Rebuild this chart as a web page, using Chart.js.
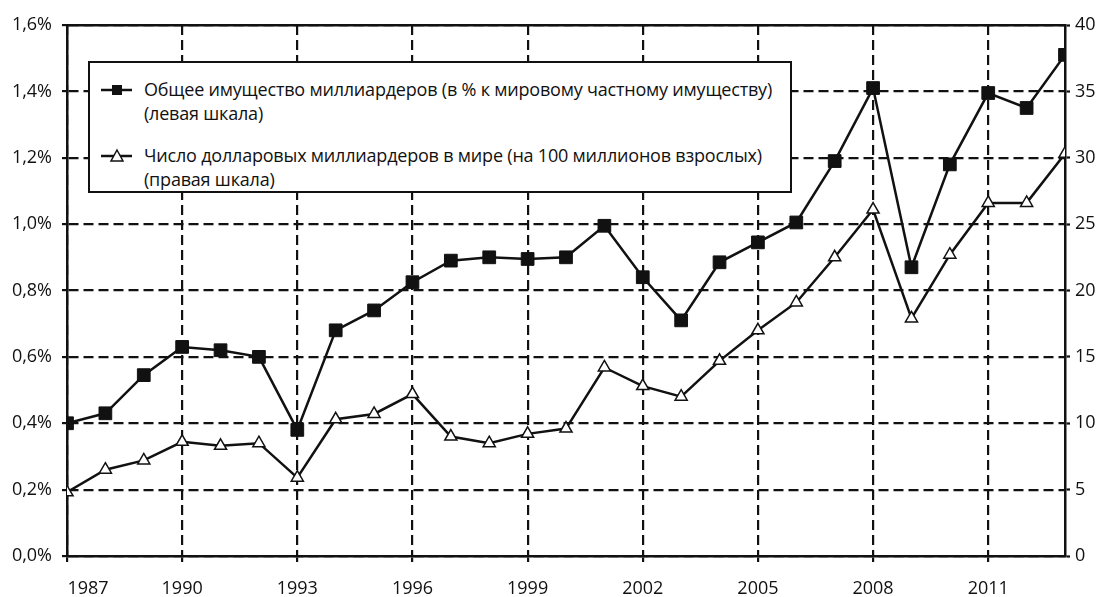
<!DOCTYPE html>
<html>
<head>
<meta charset="utf-8">
<script src="https://cdn.jsdelivr.net/npm/chart.js@4/dist/chart.umd.min.js"></script>
<style>
  html, body { margin: 0; padding: 0; background: #fff; }
  #wrap { position: relative; width: 1099px; height: 597px; }
  #legend {
    position: absolute; left: 88px; top: 61px; width: 700px; height: 128px;
    border: 2px solid #111; background: #fff;
    font-family: "Open Sans", sans-serif;
    font-size: 18px; color: #111; line-height: 24px; letter-spacing: -0.2px;
  }
  .item { position: absolute; left: 10px; }
  .item svg { position: absolute; left: 0; top: 4px; }
  .item .txt { position: absolute; left: 44px; top: -1px; white-space: nowrap; }
</style>
</head>
<body>
<div id="wrap">
  <canvas id="myChart" width="1099" height="597"></canvas>
  <div id="legend">
    <div class="item" style="top:15px">
      <svg width="34" height="16"><line x1="1" y1="8" x2="32" y2="8" stroke="#111" stroke-width="2.5"/><rect x="12" y="3" width="10" height="10" fill="#111"/></svg>
      <div class="txt">Общее имущество миллиардеров (в % к мировому частному имуществу)<br>(левая шкала)</div>
    </div>
    <div class="item" style="top:81px">
      <svg width="34" height="16"><line x1="1" y1="8" x2="32" y2="8" stroke="#111" stroke-width="2.5"/><polygon points="17,2 23,13 11,13" fill="#fff" stroke="#111" stroke-width="1.5"/></svg>
      <div class="txt">Число долларовых миллиардеров в мире (на 100 миллионов взрослых)<br>(правая шкала)</div>
    </div>
  </div>
</div>
<script>
// years on the x axis
const years = [1987, 1988, 1989, 1990, 1991, 1992, 1993, 1994, 1995, 1996, 1997, 1998, 1999,
    2000, 2001, 2002, 2003, 2004, 2005, 2006, 2007, 2008, 2009, 2010, 2011, 2012, 2013];

// left scale: billionaire wealth, % of world private wealth
const wealthShare = [0.40, 0.43, 0.545, 0.63, 0.62, 0.60, 0.38, 0.68, 0.74, 0.825, 0.89, 0.90, 0.895,
    0.90, 0.995, 0.84, 0.71, 0.885, 0.945, 1.005, 1.19, 1.41, 0.87, 1.18, 1.395, 1.35, 1.51];

// right scale: number of dollar billionaires per 100 million adults
const billionaires = [4.8, 6.5, 7.2, 8.6, 8.3, 8.5, 5.9, 10.3, 10.7, 12.2, 9.0, 8.5, 9.2,
    9.6, 14.2, 12.8, 12.0, 14.7, 17.0, 19.1, 22.5, 26.1, 17.9, 22.7, 26.6, 26.6, 30.3];

const xTicks = [1987, 1990, 1993, 1996, 1999, 2002, 2005, 2008, 2011];
const leftTicks = [0, 0.2, 0.4, 0.6, 0.8, 1.0, 1.2, 1.4, 1.6];
const rightTicks = [0, 5, 10, 15, 20, 25, 30, 35, 40];

const ink = '#111';
const tickFont = { family: '"Open Sans", sans-serif', size: 18 };

const ctx = document.getElementById('myChart').getContext('2d');
const myChart = new Chart(ctx, {
    type: 'line',
    data: {
        datasets: [{
            label: 'Общее имущество миллиардеров',
            data: years.map((y, i) => ({ x: y, y: wealthShare[i] })),
            yAxisID: 'y',
            borderColor: ink,
            borderWidth: 2.5,
            pointStyle: 'rect',
            pointRadius: 9,
            pointBackgroundColor: ink,
            pointBorderColor: ink,
            pointBorderWidth: 1,
            tension: 0
        }, {
            label: 'Число долларовых миллиардеров',
            data: years.map((y, i) => ({ x: y, y: billionaires[i] })),
            yAxisID: 'y2',
            borderColor: ink,
            borderWidth: 2.5,
            pointStyle: 'triangle',
            pointRadius: 7,
            pointBackgroundColor: '#fff',
            pointBorderColor: ink,
            pointBorderWidth: 1.5,
            tension: 0
        }]
    },
    options: {
        responsive: false,
        animation: false,
        layout: { padding: { top: 25, left: 0, right: 0, bottom: 0 } },
        plugins: {
            legend: { display: false },
            tooltip: { enabled: false }
        },
        scales: {
            x: {
                type: 'linear',
                position: 'bottom',
                min: 1987,
                max: 2013,
                afterBuildTicks: s => { s.ticks = xTicks.map(v => ({ value: v })); },
                afterFit: s => { s.height = 41; },
                ticks: {
                    color: ink, font: tickFont, padding: 16, maxRotation: 0,
                    // first label sits to the right of the axis corner, as in the original
                    callback: v => v === 1987 ? '         1987' : String(v)
                },
                grid: { color: ink, lineWidth: 2.2, tickLength: 6, tickColor: ink, tickWidth: 2.2 },
                border: { color: ink, width: 2.5, dash: [10, 5] }
            },
            xTop: {
                type: 'linear',
                position: 'top',
                min: 1987,
                max: 2013,
                afterFit: s => { s.height = 0; },
                ticks: { display: false },
                grid: { display: false },
                border: { color: ink, width: 2.5 }
            },
            y: {
                position: 'left',
                min: 0,
                max: 1.6,
                afterBuildTicks: s => { s.ticks = leftTicks.map(v => ({ value: v })); },
                afterFit: s => { s.width = 67; },
                ticks: {
                    color: ink, font: tickFont, padding: 10,
                    callback: v => v.toFixed(1).replace('.', ',') + '%'
                },
                grid: { color: ink, lineWidth: 2.2, tickLength: 5, tickColor: ink, tickWidth: 2.2 },
                border: { color: ink, width: 2.5, dash: [10, 5] }
            },
            y2: {
                position: 'right',
                min: 0,
                max: 40,
                afterBuildTicks: s => { s.ticks = rightTicks.map(v => ({ value: v })); },
                afterFit: s => { s.width = 34; },
                ticks: { color: ink, font: tickFont, padding: 5 },
                grid: { drawOnChartArea: false, tickLength: 5, tickColor: ink, tickWidth: 2.2 },
                border: { color: ink, width: 2.5 }
            }
        }
    }
});
</script>
</body>
</html>
